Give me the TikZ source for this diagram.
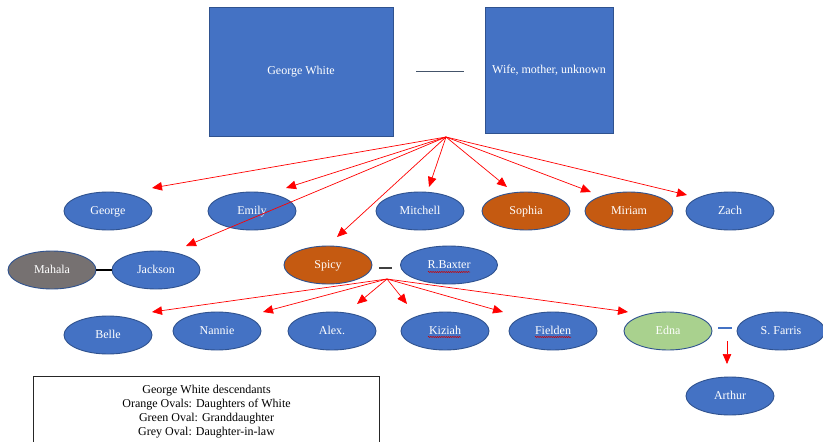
\documentclass[tikz,border=0pt]{standalone}
\usepackage{fontspec}
\setmainfont{Liberation Serif}
\usetikzlibrary{arrows.meta,shapes.geometric,decorations.pathmorphing}
\definecolor{obl}{HTML}{4472C4}
\definecolor{obd}{HTML}{2F528F}
\definecolor{oor}{HTML}{C55A11}
\definecolor{ogr}{HTML}{A9D18E}
\definecolor{ogy}{HTML}{767171}
\definecolor{odk}{HTML}{44546A}
\tikzset{
  person/.style={ellipse, draw=obd, line width=0.9pt, fill=obl, text=white,
    minimum width=88pt, minimum height=38pt, inner sep=0pt,
    text height=8.5pt, text depth=2pt,
    font=\fontsize{12}{14}\selectfont},
  daughter/.style={person, fill=oor},
  grand/.style={person, fill=ogr},
  inlaw/.style={person, fill=ogy},
  bigbox/.style={rectangle, draw=obd, line width=0.9pt, fill=obl, text=white,
    inner sep=0pt, font=\fontsize{12}{14}\selectfont},
  arr/.style={draw=red, line width=0.7pt, -{Triangle[length=10pt,width=8.5pt]}},
  spouse/.style={line width=1.6pt},
  wavy/.style={draw=red!80!black, line width=0.5pt, decorate,
    decoration={snake, amplitude=0.6pt, segment length=2.2pt}},
  legendbox/.style={rectangle, draw=black!85, line width=1.1pt, fill=white,
    align=center, font=\fontsize{12}{14}\selectfont, inner sep=0pt}
}
\begin{document}
\begin{tikzpicture}[x=1pt,y=-1pt]
\useasboundingbox (0,0) rectangle (823,442);
\clip (0,0) rectangle (823,442);
\fill[white] (0,0) rectangle (823,442);

% top boxes
\node[bigbox, minimum width=184pt, minimum height=129pt] (gw) at (301,71.5) {George White};
\node[bigbox, minimum width=128pt, minimum height=126pt] (wife) at (549,70) {Wife, mother, unknown};
\draw[draw=odk, line width=1.4pt] ([xshift=23pt]gw.east) -- ([xshift=-21pt]wife.west |- gw.east);

% row 1
\node[person]   (george)   at (108,211) {George};
\node[person]   (emily)    at (252,211) {Emily};
\node[person]   (mitchell) at (420,211) {Mitchell};
\node[daughter] (sophia)   at (526,211) {Sophia};
\node[daughter] (miriam)   at (629,211) {Miriam};
\node[person]   (zach)     at (730,211) {Zach};

% row 2
\node[inlaw]    (mahala)   at (52,270)  {Mahala};
\node[person]   (jackson)  at (156,270) {Jackson};
\node[daughter] (spicy)    at (328,265) {Spicy};
\node[person, minimum width=97pt] (baxter) at (449,265) {R.Baxter};

% row 3
\node[person]   (belle)    at (108,335) {Belle};
\node[person]   (nannie)   at (217,331) {Nannie};
\node[person]   (alex)     at (332,331) {Alex.};
\node[person]   (kiziah)   at (445,331) {Kiziah};
\node[person]   (fielden)  at (553,331) {Fielden};
\node[grand]    (edna)     at (668,331) {Edna};
\node[person]   (farris)   at (781,331) {S. Farris};
\node[person]   (arthur)   at (730,396) {Arthur};

% spouse lines
\draw[spouse, draw=black] (mahala.east) -- (jackson.west);
\draw[spouse, draw=black!75] ([xshift=6.5pt,yshift=-3pt]spicy.east) -- ([xshift=-8.5pt,yshift=-3pt]baxter.west);
\draw[spouse, draw=obl, line width=2pt] ([xshift=6pt,yshift=3pt]edna.east) -- ([xshift=-5pt,yshift=3pt]farris.west);

% spell-check underlines
\draw[wavy] ([xshift=-21pt,yshift=-7pt]baxter.center) -- ([xshift=21pt,yshift=-7pt]baxter.center);
\draw[wavy] ([xshift=-17pt,yshift=-6pt]kiziah.center) -- ([xshift=16pt,yshift=-6pt]kiziah.center);
\draw[wavy] ([xshift=-18pt,yshift=-6pt]fielden.center) -- ([xshift=18pt,yshift=-6pt]fielden.center);

% arrows from George White
\coordinate (src) at (446,137);
\coordinate (tGeorge)   at (152,188);
\coordinate (tEmily)    at (286,188);
\coordinate (tMitchell) at (429,187);
\coordinate (tSophia)   at (507,187);
\coordinate (tMiriam)   at (591,192);
\coordinate (tZach)     at (687,195);
\coordinate (tJackson)  at (186,246);
\coordinate (tSpicy)    at (337,237);
\foreach \t in {tGeorge,tEmily,tMitchell,tSophia,tMiriam,tZach,tJackson,tSpicy}
  \draw[arr] (src) -- (\t);

% arrows from Spicy & Baxter
\coordinate (ssrc) at (387,279);
\coordinate (tBelle)   at (152,312);
\coordinate (tNannie)  at (263,312);
\coordinate (tAlex)    at (357,304);
\coordinate (tKiziah)  at (407,304);
\coordinate (tFielden) at (503,312);
\coordinate (tEdna)    at (628,312);
\foreach \t in {tBelle,tNannie,tAlex,tKiziah,tFielden,tEdna}
  \draw[arr] (ssrc) -- (\t);

% Edna & Farris child
\coordinate (esrc) at (727,341);
\coordinate (tArthur) at (727,364);
\draw[arr] (esrc) -- (tArthur);

% legend
\node[legendbox, minimum width=346pt, minimum height=70pt, anchor=north west] (legend) at (33,376)
  {George White descendants\\Orange Ovals: Daughters of White\\Green Oval: Granddaughter\\Grey Oval: Daughter-in-law};
\end{tikzpicture}
\end{document}
